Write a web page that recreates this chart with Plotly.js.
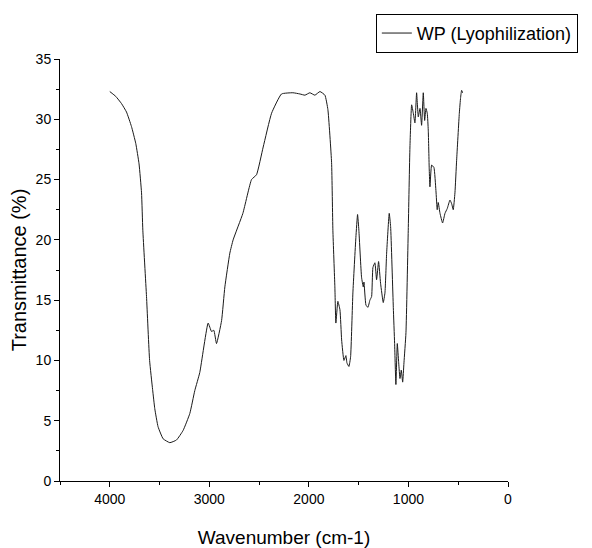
<!DOCTYPE html>
<html>
<head>
<meta charset="utf-8">
<script src="https://cdn.plot.ly/plotly-3.0.1.min.js"></script>
<style>html,body{margin:0;padding:0;background:#fff;}#chart{width:592px;height:548px;}</style>
</head>
<body>
<div id="chart"></div>
<script>
const seriesName = "WP (Lyophilization)";
const wavenumber = [4000,3940,3882,3832,3782,3739,3706,3681,3668,3631,3600,3570,3548,3515,3464,3397,3330,3263,3196,3146,3096,3012,2978,2955,2928,2877,2844,2794,2761,2663,2576,2526,2459,2375,2275,2161,2090,2040,1990,1940,1889,1839,1809,1772,1759,1739,1729,1709,1688,1671,1648,1628,1618,1598,1581,1558,1528,1511,1498,1471,1454,1447,1427,1407,1387,1370,1357,1337,1320,1300,1280,1253,1236,1219,1193,1179,1152,1139,1126,1112,1098,1085,1072,1058,1045,1025,1002,985,968,951,935,918,901,884,868,851,837,824,811,801,791,784,767,744,724,711,701,683,657,633,610,583,566,550,533,516,489,476,466,456];
const transmittance = [32.3,31.9,31.3,30.6,29.4,28.0,26.3,23.9,20.8,15.3,10.0,7.6,6.0,4.5,3.5,3.18,3.4,4.2,5.6,7.5,9.0,13.1,12.4,12.5,11.4,13.3,16.1,18.9,20.0,22.2,25.0,25.4,27.7,30.5,32.1,32.2,32.1,32.0,32.2,32.0,32.3,32.0,30.8,26.4,20.8,16.1,13.1,14.9,14.2,11.7,10.0,10.4,9.8,9.5,10.3,15.6,20.2,22.1,20.8,16.9,16.1,16.5,14.6,14.4,15.0,15.3,17.7,18.1,16.7,18.2,16.4,14.8,15.6,18.9,22.2,21.1,14.4,11.4,8.0,11.4,9.8,8.5,9.2,8.2,9.8,12.3,20.8,27.7,31.2,30.5,29.7,32.2,30.2,30.9,29.5,32.2,29.9,30.9,30.5,29.1,25.8,24.4,26.2,26.0,24.1,22.5,23.1,22.2,21.4,22.2,22.6,23.3,23.0,22.5,23.9,26.6,30.5,31.8,32.4,32.2];
const xTickVals = [4000,3000,2000,1000,0];
const yTickVals = [0,5,10,15,20,25,30,35];

const font = "Liberation Sans, Arial, sans-serif";
const trace = {
  x: wavenumber, y: transmittance, type: "scatter", mode: "lines",
  name: seriesName, line: {color: "#1a1a1a", width: 1, shape: "spline", smoothing: 0.4},
  showlegend: true
};
const layout = {
  width: 592, height: 548,
  margin: {l: 60, r: 84, t: 59, b: 67},
  paper_bgcolor: "#fff", plot_bgcolor: "#fff",
  font: {family: font, color: "#000", size: 14},
  showlegend: true,
  legend: {x: 0.705, xanchor: "left", y: 1.107, yanchor: "top", bordercolor: "#000", borderwidth: 1,
           bgcolor: "#fff", font: {family: font, size: 18, color: "#000"}, tracegroupgap: 0},
  xaxis: {
    range: [4500, 0], tickvals: xTickVals, ticks: "outside", ticklen: 5, tickcolor: "#000",
    showline: true, linecolor: "#000", linewidth: 1, showgrid: false, zeroline: false, mirror: false,
    minor: {dtick: 500, tick0: 0, ticks: "outside", ticklen: 3, tickcolor: "#000", showgrid: false},
    tickfont: {family: font, size: 14},
    title: {text: "Wavenumber (cm-1)", font: {family: font, size: 19}, standoff: 24}
  },
  yaxis: {
    range: [0, 35], tickvals: yTickVals, ticks: "outside", ticklen: 5, tickcolor: "#000",
    showline: true, linecolor: "#000", linewidth: 1, showgrid: false, zeroline: false, mirror: false,
    minor: {dtick: 2.5, tick0: 0, ticks: "outside", ticklen: 3, tickcolor: "#000", showgrid: false},
    tickfont: {family: font, size: 14},
    title: {text: "Transmittance (%)", font: {family: font, size: 20}, standoff: 3}
  }
};
Plotly.newPlot("chart", [trace], layout, {displayModeBar: false, staticPlot: true});
</script>
</body>
</html>
